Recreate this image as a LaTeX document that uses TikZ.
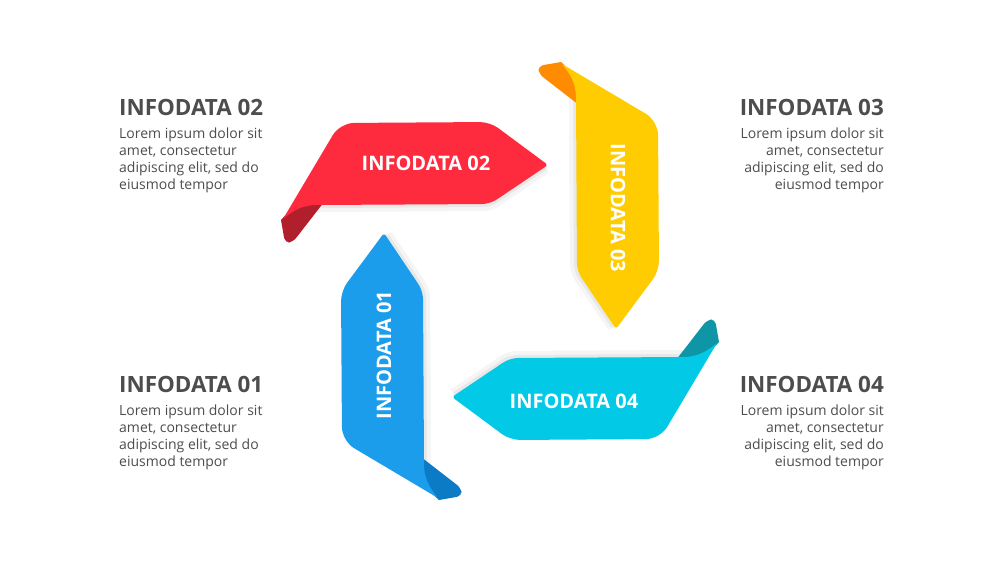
\documentclass[tikz,border=0pt]{standalone}
\usepackage{fontspec}
\setmainfont{Open Sans}
\usepackage{tikz}
\usetikzlibrary{positioning}

\definecolor{ribred}{HTML}{FE2A3D}
\definecolor{ribredd}{HTML}{B01F2B}
\definecolor{ribyel}{HTML}{FFCC02}
\definecolor{riborg}{HTML}{FF8C00}
\definecolor{ribcyan}{HTML}{02C9E6}
\definecolor{ribteal}{HTML}{0E95A6}
\definecolor{ribblue}{HTML}{1C9DEC}
\definecolor{ribblued}{HTML}{0B7BC5}
\definecolor{infogray}{HTML}{4D4D4D}

% one ribbon, drawn round the centre of the pinwheel
\newcommand{\ribbonbody}{(-183,-76) [rounded corners=8pt] -- (-10,-77) [rounded corners=3pt] -- (48,-116) [rounded corners=10pt] -- (-10,-159) [rounded corners=14pt] -- (-160,-158) [rounded corners=2pt] -- (-217,-62) [sharp corners] .. controls (-205,-72) and (-195,-76) .. cycle}
\newcommand{\ribbonfold}{(-176,-79) -- (-200,-82) -- (-219,-61) [rounded corners=5pt] -- (-215,-38) -- (-207,-39) [sharp corners] -- cycle}

\begin{document}
\begin{tikzpicture}[x=1pt, y=-1pt, every node/.style={inner sep=0pt}]

\tikzstyle{headtext} = [font=\fontsize{22.4}{26}\selectfont\bfseries, text=infogray]
\tikzstyle{bodytext} = [font=\fontsize{14}{17}\selectfont, text=infogray]
\tikzstyle{ribtext} = [font=\fontsize{20}{24}\selectfont\bfseries, text=white]

    \fill[white] (0,0) rectangle (1000,563);
    \useasboundingbox (0,0) rectangle (1000,563);

    % Draw ribbons
    \foreach \ang/\main/\fold in {0/ribred/ribredd, -90/ribyel/riborg, -180/ribcyan/ribteal, 90/ribblue/ribblued}{
    \begin{scope}[shift={(500,281)}, rotate=\ang]
        \fill[black, opacity=0.04, shift={(2,7)}] \ribbonbody;
        \fill[black, opacity=0.05, shift={(1,3)}] \ribbonbody;
        \fill[\fold] \ribbonfold;
        \fill[\main] \ribbonbody;
    \end{scope}
    }

    % Place ribbon labels
    \node [ribtext] (rib2) at (426,163) {INFODATA 02};
    \node [ribtext, rotate=-90] (rib3) at (618,208) {INFODATA 03};
    \node [ribtext] (rib4) at (574,401) {INFODATA 04};
    \node [ribtext, rotate=90] (rib1) at (384,355) {INFODATA 01};

    % Place side texts
    \node [headtext, anchor=base west] (head2) at (119,115) {INFODATA 02};
    \node [bodytext, align=left, below=12pt of head2.south west, anchor=north west] (body2) {Lorem ipsum dolor sit\\amet, consectetur\\adipiscing elit, sed do\\eiusmod tempor};
    \node [headtext, anchor=base west] (head1) at (119,392) {INFODATA 01};
    \node [bodytext, align=left, below=12pt of head1.south west, anchor=north west] (body1) {Lorem ipsum dolor sit\\amet, consectetur\\adipiscing elit, sed do\\eiusmod tempor};
    \node [headtext, anchor=base east] (head3) at (884,115) {INFODATA 03};
    \node [bodytext, align=right, below=12pt of head3.south east, anchor=north east] (body3) {Lorem ipsum dolor sit\\amet, consectetur\\adipiscing elit, sed do\\eiusmod tempor};
    \node [headtext, anchor=base east] (head4) at (884,392) {INFODATA 04};
    \node [bodytext, align=right, below=12pt of head4.south east, anchor=north east] (body4) {Lorem ipsum dolor sit\\amet, consectetur\\adipiscing elit, sed do\\eiusmod tempor};
\end{tikzpicture}
\end{document}
